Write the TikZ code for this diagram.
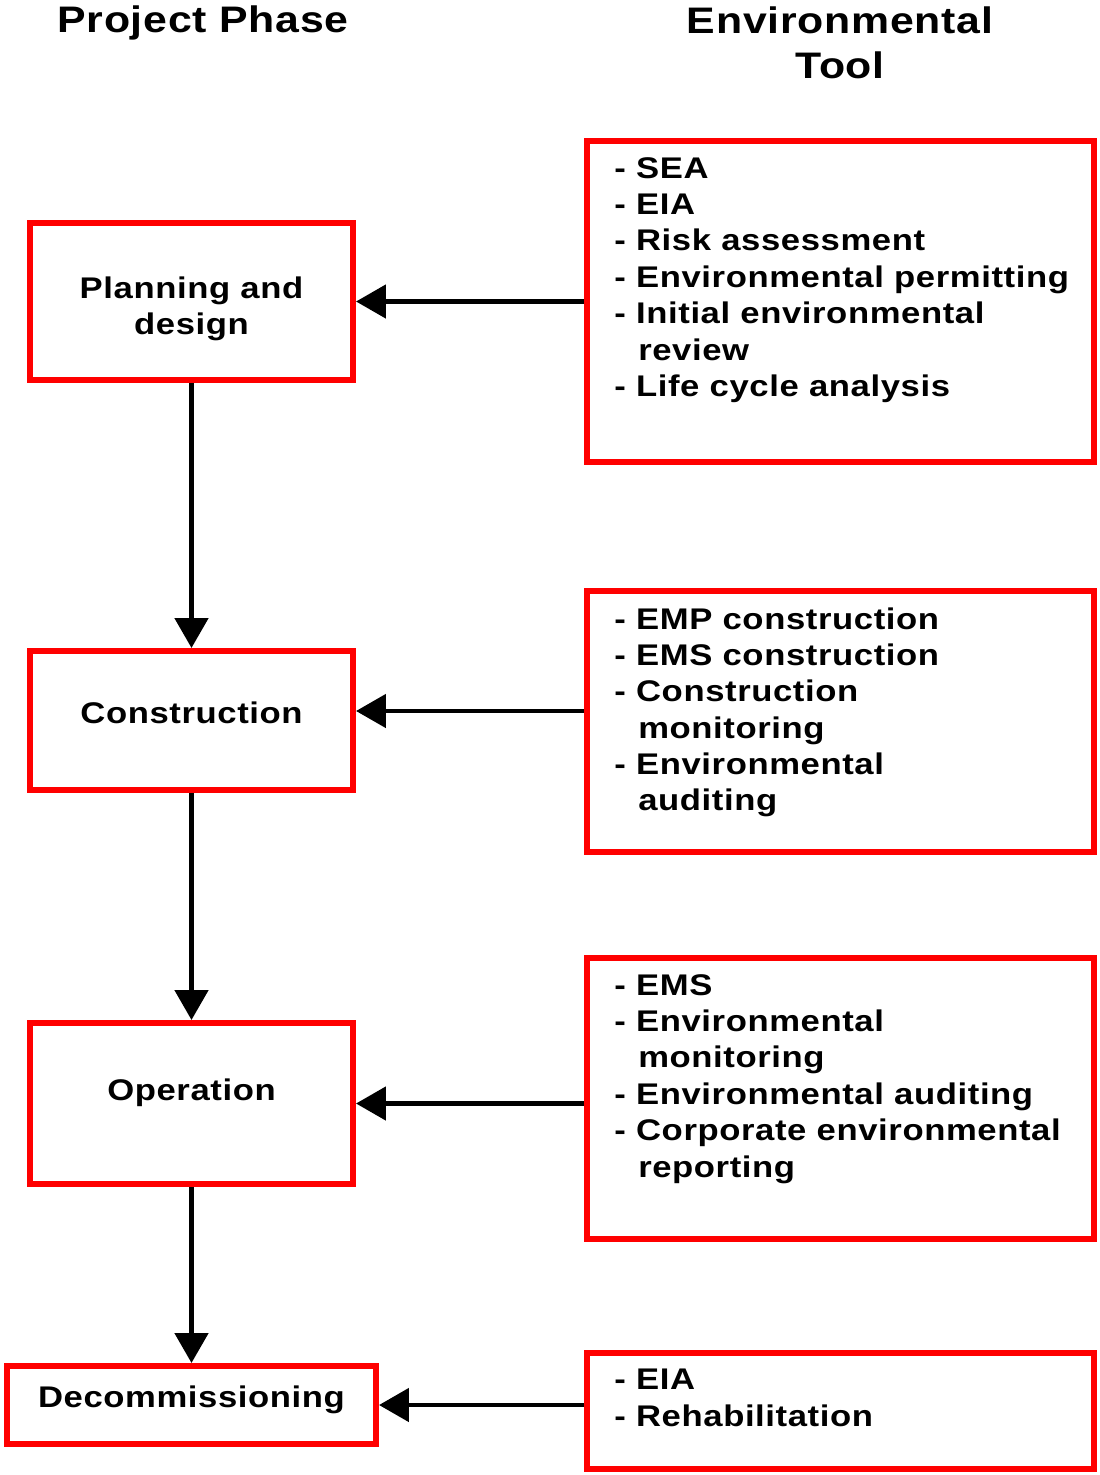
\documentclass[tikz,border=0pt]{standalone}
\usepackage{fontspec}
\setmainfont{Liberation Sans}[FakeStretch=1.16,LetterSpace=2.0]
\usepackage{xcolor}
\definecolor{BoxRed}{RGB}{255,0,0}
\usetikzlibrary{arrows.meta}
\newcommand{\cont}{\hspace*{0.8em}}

\begin{document}
\begin{tikzpicture}[
    phase/.style={rectangle, draw=BoxRed, line width=3.4pt, minimum width=6.46cm,
              align=center, inner sep=0pt, font=\fontsize{17}{20.7}\selectfont\bfseries},
    tool/.style={rectangle, draw=BoxRed, line width=3.4pt, minimum width=10.14cm},
    items/.style={anchor=north west, align=left, inner sep=0pt,
              font=\fontsize{17}{20.7}\selectfont\bfseries},
    head/.style={align=center, font=\fontsize{21}{25.5}\selectfont\bfseries},
    a/.style={-{Triangle[length=0.6cm,width=0.66cm]}, line width=2.8pt}
]
    \useasboundingbox (0,0) rectangle (22,-29.5);

    % headers
    \node[head] (hphase) at (4.06,-0.46) {Project Phase};
    \node[head] (htool) at (16.8,-0.85) {Environmental\\Tool};

    % project phases
    \node[phase, minimum height=3.14cm, text height=41.6pt] (plan) at (3.83,-6.03) {Planning and\\design};
    \node[phase, minimum height=2.78cm, text depth=0.32cm] (constr) at (3.83,-14.41) {Construction};
    \node[phase, minimum height=3.22cm, text depth=0.57cm] (oper) at (3.83,-22.07) {Operation};
    \node[phase, minimum height=1.56cm, minimum width=7.38cm, text depth=0.33cm] (decom) at (3.83,-28.1) {Decommissioning};

    % environmental tools
    \node[tool, minimum height=6.42cm] (tool1) at (16.81,-6.03) {};
    \node[tool, minimum height=5.22cm] (tool2) at (16.81,-14.43) {};
    \node[tool, minimum height=5.62cm] (tool3) at (16.81,-21.97) {};
    \node[tool, minimum height=2.32cm] (tool4) at (16.81,-28.22) {};

    \node[items] (list1) at ([shift={(0.6,-0.38)}]tool1.north west)
        {- SEA\\- EIA\\- Risk assessment\\- Environmental permitting\\- Initial environmental\\\cont review\\- Life cycle analysis};
    \node[items] (list2) at ([shift={(0.6,-0.38)}]tool2.north west)
        {- EMP construction\\- EMS construction\\- Construction\\\cont monitoring\\- Environmental\\\cont auditing};
    \node[items] (list3) at ([shift={(0.6,-0.38)}]tool3.north west)
        {- EMS\\- Environmental\\\cont monitoring\\- Environmental auditing\\- Corporate environmental\\\cont reporting};
    \node[items] (list4) at ([shift={(0.6,-0.38)}]tool4.north west)
        {- EIA\\- Rehabilitation};

    % connectors
    \draw[a] (plan) -- (constr);
    \draw[a] (constr) -- (oper);
    \draw[a] (oper) -- (decom);
    \draw[a] (tool1.west |- plan.east) -- (plan.east);
    \draw[a] (tool2.west |- 0,-14.22) -- (constr.east |- 0,-14.22);
    \draw[a] (tool3.west |- oper.east) -- (oper.east);
    \draw[a] (tool4.west |- decom.east) -- (decom.east);
\end{tikzpicture}
\end{document}
